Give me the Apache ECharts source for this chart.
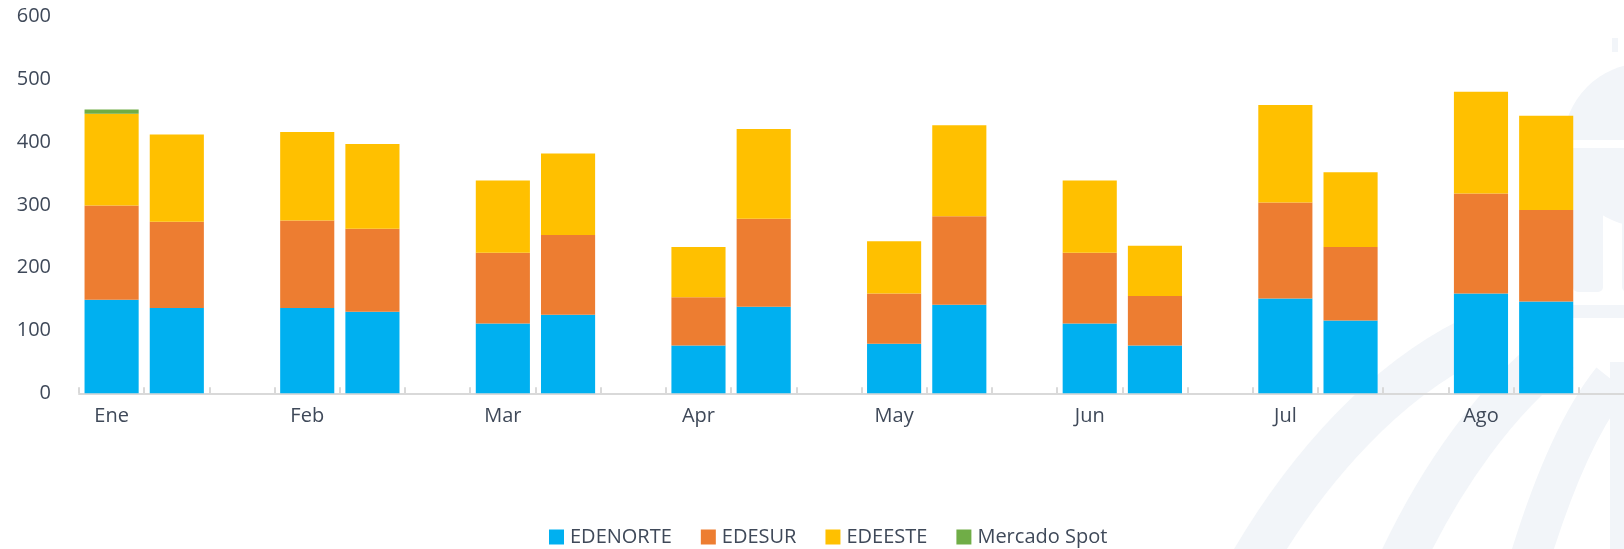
<!DOCTYPE html>
<html>
<head>
<meta charset="utf-8">
<script src="https://cdn.jsdelivr.net/npm/echarts@6/dist/echarts.min.js"></script>
<style>
  html, body { margin: 0; padding: 0; background: #ffffff; }
  #chart { width: 1624px; height: 549px; }
</style>
</head>
<body>
<div id="chart"></div>
<script>
// Months on the axis; each month has two stacked bars followed by a gap slot
const months = ['Ene', 'Feb', 'Mar', 'Apr', 'May', 'Jun', 'Jul', 'Ago'];
const seriesNames = ['EDENORTE', 'EDESUR', 'EDEESTE', 'Mercado Spot'];
const yTicks = [0, 100, 200, 300, 400, 500, 600];

// Values per bar, ordered [Ene 1, Ene 2, Feb 1, Feb 2, ...]
const edenorte = [149, 136, 136, 130, 111, 125, 76, 138, 79, 141, 111, 76, 151, 116, 159, 146];
const edesur   = [150, 137, 139, 132, 113, 127, 77, 140, 80, 141, 113, 79, 153, 117, 159, 146];
const edeeste  = [146, 139, 141, 135, 115, 130, 80, 143, 83, 145, 115, 80, 155, 119, 162, 150];
const spot     = [7, null, null, null, null, null, null, null, null, null, null, null, null, null, null, null];

const colors = ['#00B0F0', '#ED7D31', '#FFC000', '#70AD47'];

// Three slots per month: first bar, second bar, empty spacer
const categories = [];
months.forEach(m => { categories.push(m, ' ', '  '); });
function expand(vals) {
  const out = [];
  for (let i = 0; i < months.length; i++) {
    out.push(vals[2 * i] == null ? '-' : vals[2 * i]);
    out.push(vals[2 * i + 1] == null ? '-' : vals[2 * i + 1]);
    out.push('-');
  }
  return out;
}

const dataSets = [edenorte, edesur, edeeste, spot];
const textColor = '#3f4959';
const font = '"Open Sans", "Noto Sans", sans-serif';

// Faint emblem drawn behind the plot on the right side
const wm = '#f2f5f9';
const watermark = [
  { type: 'circle', shape: { cx: 1645, cy: 145, r: 82 }, style: { fill: wm } },
  { type: 'rect', shape: { x: 1612, y: 38, width: 6, height: 14 }, style: { fill: wm } },
  { type: 'rect', shape: { x: 1520, y: 140, width: 110, height: 8 }, style: { fill: '#ffffff' } },
  { type: 'rect', shape: { x: 1575, y: 155, width: 60, height: 13 }, style: { fill: wm } },
  { type: 'rect', shape: { x: 1573, y: 178, width: 30, height: 114, r: 5 }, style: { fill: wm } },
  { type: 'rect', shape: { x: 1622, y: 178, width: 20, height: 114, r: 5 }, style: { fill: wm } },
  { type: 'rect', shape: { x: 1573, y: 305, width: 60, height: 13 }, style: { fill: wm } },
  { type: 'rect', shape: { x: 1610, y: 362, width: 20, height: 200 }, style: { fill: wm } },
  { type: 'bezierCurve', shape: { x1: 1245, y1: 575, x2: 1470, y2: 340, cpx1: 1310, cpy1: 460, cpx2: 1390, cpy2: 380 },
    style: { stroke: wm, lineWidth: 45, fill: null } },
  { type: 'bezierCurve', shape: { x1: 1395, y1: 575, x2: 1560, y2: 350, cpx1: 1440, cpy1: 475, cpx2: 1500, cpy2: 395 },
    style: { stroke: wm, lineWidth: 45, fill: null } },
  { type: 'bezierCurve', shape: { x1: 1525, y1: 575, x2: 1612, y2: 380, cpx1: 1550, cpy1: 490, cpx2: 1580, cpy2: 420 },
    style: { stroke: wm, lineWidth: 40, fill: null } }
];

const chart = echarts.init(document.getElementById('chart'), null, { renderer: 'canvas' });
chart.setOption({
  backgroundColor: '#ffffff',
  animation: false,
  color: colors,
  textStyle: { fontFamily: font },
  graphic: watermark.map(g => Object.assign({ silent: true, z: -10 }, g)),
  // plot area runs slightly past the right edge, so the last spacer slot is clipped
  grid: { left: 79, width: 1565, top: 16.5, height: 376.8, containLabel: false, outerBoundsMode: 'none' },
  legend: {
    data: seriesNames,
    left: 544,
    top: 522,
    itemWidth: 15,
    itemHeight: 15,
    itemGap: 29,
    icon: 'rect',
    textStyle: { fontSize: 20, color: textColor, fontFamily: font, padding: [0, 0, 0, 1] }
  },
  xAxis: {
    type: 'category',
    data: categories,
    boundaryGap: true,
    axisLine: { show: true, lineStyle: { color: '#d9d9d9', width: 2 } },
    axisTick: { show: true, inside: true, length: 6, interval: 0, lineStyle: { color: '#d9d9d9', width: 2 } },
    axisLabel: { interval: 0, margin: 13, fontSize: 20, color: textColor, fontFamily: font },
    splitLine: { show: false }
  },
  yAxis: {
    type: 'value',
    min: yTicks[0],
    max: yTicks[yTicks.length - 1],
    interval: yTicks[1] - yTicks[0],
    axisLine: { show: false },
    axisTick: { show: false },
    splitLine: { show: false },
    axisLabel: { margin: 28, fontSize: 20, color: textColor, fontFamily: font }
  },
  series: seriesNames.map((name, i) => ({
    name: name,
    type: 'bar',
    stack: 'total',
    barWidth: '83%',
    data: expand(dataSets[i]),
    itemStyle: { color: colors[i] }
  }))
});
</script>
</body>
</html>
